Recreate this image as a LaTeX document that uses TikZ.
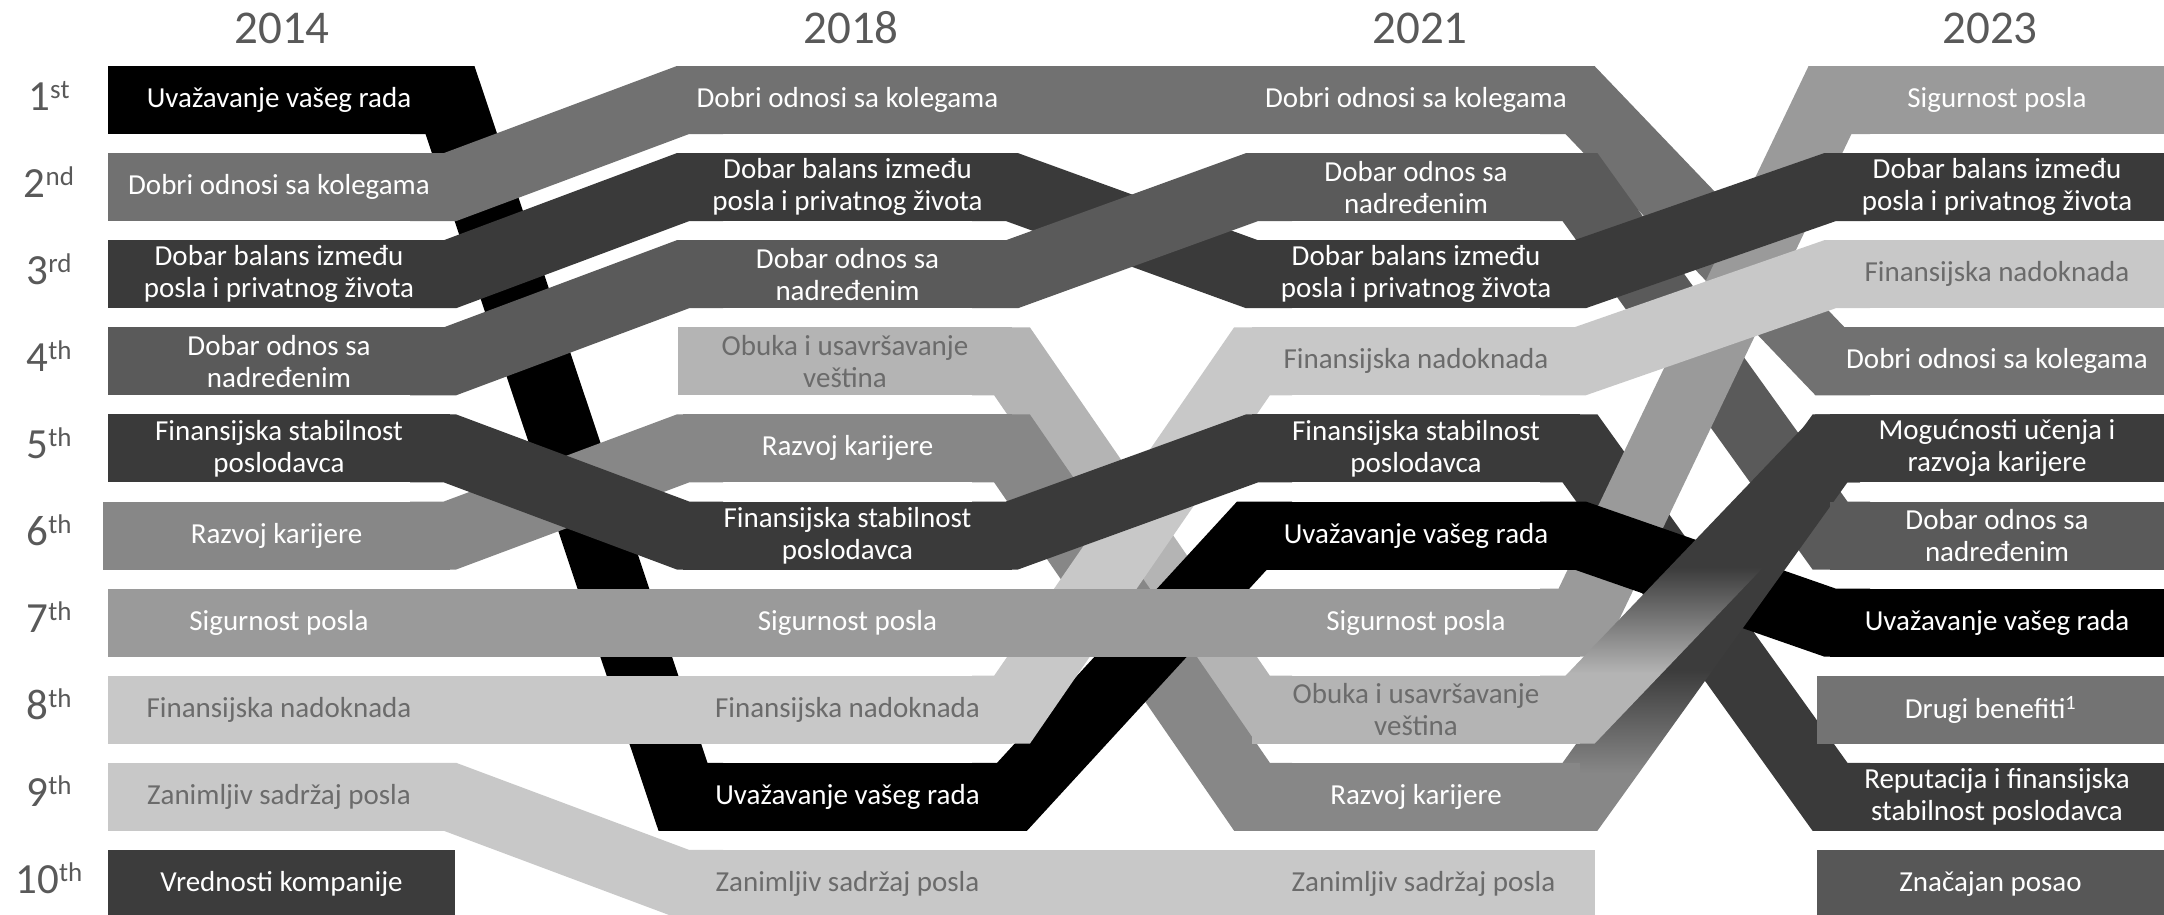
\documentclass[tikz,border=0pt]{standalone}
\usepackage{fontspec}
\setmainfont{Carlito}
\definecolor{cKol}{HTML}{717171}
\definecolor{cBal}{HTML}{3A3A3A}
\definecolor{cNad}{HTML}{5A5A5A}
\definecolor{cFst}{HTML}{3A3A3A}
\definecolor{cRaz}{HTML}{878787}
\definecolor{cSig}{HTML}{9A9A9A}
\definecolor{cFnd}{HTML}{C8C8C8}
\definecolor{cZan}{HTML}{C8C8C8}
\definecolor{cVre}{HTML}{3C3C3C}
\definecolor{cObu}{HTML}{B4B4B4}
\definecolor{cMog}{HTML}{3C3C3C}
\definecolor{cDrg}{HTML}{737373}
\definecolor{cZna}{HTML}{575757}
\definecolor{cTxtG}{HTML}{6B6B6B}
\definecolor{cLab}{HTML}{595959}
\pgfdeclareverticalshading{obugrad}{100bp}{color(0bp)=(cObu); color(35.7bp)=(cObu); color(51.8bp)=(cMog); color(100bp)=(cMog)}
\pgfdeclareverticalshading{razgrad}{100bp}{color(0bp)=(cRaz); color(31.9bp)=(cRaz); color(44.3bp)=(cMog); color(100bp)=(cMog)}
\newcommand\boxfont{\fontsize{29}{32}\selectfont}
\newcommand\sups[1]{\raisebox{12pt}{\fontsize{27}{27}\selectfont #1}}
\newcommand\seg[5]{\draw[rib,draw=#1] ({#2-40},{100+87.1*(#3-1)}) -- ({#2},{100+87.1*(#3-1)}) -- ({#4},{100+87.1*(#5-1)}) -- ({#4+40},{100+87.1*(#5-1)});}
\newcommand\bx[7]{\node[box, fill=#5, text=#6, minimum width={#3-#2}] (#1) at ({(#2+#3)/2},{100+87.1*(#4-1)}) {#7};}
\newcommand\rk[2]{\node[ranklbl] (rank#1) at (49,{110+87.1*(#1-1)}) {#1\sups{#2}};}
\begin{document}
\begin{tikzpicture}[x=1pt,y=-1pt,
  rib/.style={line width=68pt, line join=miter, miter limit=20},
  box/.style={rectangle, inner sep=0pt, outer sep=0pt, minimum height=68pt, align=center, font=\boxfont},
  yearlbl/.style={font=\fontsize{47}{47}\selectfont, text=cLab, anchor=base, inner sep=0pt},
  ranklbl/.style={font=\fontsize{43}{43}\selectfont, text=cLab, anchor=base, inner sep=0pt}]
\useasboundingbox (0,0) rectangle (2164,914);
% years
\node[yearlbl] (y2014) at (282,43) {2014};
\node[yearlbl] (y2018) at (851,43) {2018};
\node[yearlbl] (y2021) at (1420,43) {2021};
\node[yearlbl] (y2023) at (1990,43) {2023};
% ranks
\rk{1}{st}\rk{2}{nd}\rk{3}{rd}\rk{4}{th}\rk{5}{th}\rk{6}{th}\rk{7}{th}\rk{8}{th}\rk{9}{th}\rk{10}{th}
% segment 2014 -> 2018
\seg{black}{450}{1}{683}{9}
\seg{cRaz}{450}{6}{683}{5}
\seg{cFst}{450}{5}{683}{6}
\seg{cKol}{450}{2}{683}{1}
\seg{cBal}{450}{3}{683}{2}
\seg{cNad}{450}{4}{683}{3}
\seg{cSig}{450}{7}{683}{7}
\seg{cFnd}{450}{8}{683}{8}
\seg{cZan}{450}{9}{683}{10}
% segment 2018 -> 2021
\seg{cObu}{1012}{4}{1252}{8}
\seg{cRaz}{1012}{5}{1252}{9}
\seg{black}{1012}{9}{1252}{6}
\seg{cFnd}{1012}{8}{1252}{4}
\seg{cFst}{1012}{6}{1252}{5}
\seg{cBal}{1012}{2}{1252}{3}
\seg{cNad}{1012}{3}{1252}{2}
\seg{cKol}{1012}{1}{1252}{1}
\seg{cSig}{1012}{7}{1252}{7}
\seg{cZan}{1012}{10}{1252}{10}
% segment 2021 -> 2023
\seg{cKol}{1580}{1}{1830}{4}
\seg{cNad}{1580}{2}{1830}{6}
\seg{cFst}{1580}{5}{1830}{9}
\seg{cSig}{1580}{7}{1830}{1}
\seg{black}{1580}{6}{1830}{7}
\shade[shading=razgrad] (1540,762.8) -- (1562.6,762.8) -- (1812.6,414.4) -- (1860,414.4) -- (1860,482.4) -- (1847.4,482.4) -- (1597.4,830.8) -- (1540,830.8) -- cycle;
\shade[shading=obugrad] (1540,675.7) -- (1565.5,675.7) -- (1815.5,414.4) -- (1860,414.4) -- (1860,482.4) -- (1844.5,482.4) -- (1594.5,743.7) -- (1540,743.7) -- cycle;
\seg{cFnd}{1580}{4}{1830}{3}
\seg{cBal}{1580}{3}{1830}{2}
% boxes 2014
\bx{a1}{108}{450}{1}{black}{white}{Uvažavanje vašeg rada}
\bx{a2}{108}{450}{2}{cKol}{white}{Dobri odnosi sa kolegama}
\bx{a3}{108}{450}{3}{cBal}{white}{Dobar balans između\\posla i privatnog života}
\bx{a4}{108}{450}{4}{cNad}{white}{Dobar odnos sa\\nadređenim}
\bx{a5}{108}{450}{5}{cFst}{white}{Finansijska stabilnost\\poslodavca}
\bx{a6}{103}{450}{6}{cRaz}{white}{Razvoj karijere}
\bx{a7}{108}{450}{7}{cSig}{white}{Sigurnost posla}
\bx{a8}{108}{450}{8}{cFnd}{cTxtG}{Finansijska nadoknada}
\bx{a9}{108}{450}{9}{cZan}{cTxtG}{Zanimljiv sadržaj posla}
\bx{a10}{108}{455}{10}{cVre}{white}{Vrednosti kompanije}
% boxes 2018
\bx{b1}{683}{1012}{1}{cKol}{white}{Dobri odnosi sa kolegama}
\bx{b2}{683}{1012}{2}{cBal}{white}{Dobar balans između\\posla i privatnog života}
\bx{b3}{683}{1012}{3}{cNad}{white}{Dobar odnos sa\\nadređenim}
\bx{b4}{678}{1012}{4}{cObu}{cTxtG}{Obuka i usavršavanje\\veština}
\bx{b5}{683}{1012}{5}{cRaz}{white}{Razvoj karijere}
\bx{b6}{683}{1012}{6}{cFst}{white}{Finansijska stabilnost\\poslodavca}
\bx{b7}{683}{1012}{7}{cSig}{white}{Sigurnost posla}
\bx{b8}{683}{1012}{8}{cFnd}{cTxtG}{Finansijska nadoknada}
\bx{b9}{683}{1012}{9}{black}{white}{Uvažavanje vašeg rada}
\bx{b10}{683}{1012}{10}{cZan}{cTxtG}{Zanimljiv sadržaj posla}
% boxes 2021
\bx{c1}{1252}{1580}{1}{cKol}{white}{Dobri odnosi sa kolegama}
\bx{c2}{1252}{1580}{2}{cNad}{white}{Dobar odnos sa\\nadređenim}
\bx{c3}{1252}{1580}{3}{cBal}{white}{Dobar balans između\\posla i privatnog života}
\bx{c4}{1252}{1580}{4}{cFnd}{cTxtG}{Finansijska nadoknada}
\bx{c5}{1252}{1580}{5}{cFst}{white}{Finansijska stabilnost\\poslodavca}
\bx{c6}{1252}{1580}{6}{black}{white}{Uvažavanje vašeg rada}
\bx{c7}{1252}{1580}{7}{cSig}{white}{Sigurnost posla}
\bx{c8}{1252}{1580}{8}{cObu}{cTxtG}{Obuka i usavršavanje\\veština}
\bx{c9}{1252}{1580}{9}{cRaz}{white}{Razvoj karijere}
\bx{c10}{1252}{1595}{10}{cZan}{cTxtG}{Zanimljiv sadržaj posla}
% boxes 2023
\bx{d1}{1830}{2164}{1}{cSig}{white}{Sigurnost posla}
\bx{d2}{1830}{2164}{2}{cBal}{white}{Dobar balans između\\posla i privatnog života}
\bx{d3}{1830}{2164}{3}{cFnd}{cTxtG}{Finansijska nadoknada}
\bx{d4}{1830}{2164}{4}{cKol}{white}{Dobri odnosi sa kolegama}
\bx{d5}{1830}{2164}{5}{cMog}{white}{Mogućnosti učenja i\\razvoja karijere}
\bx{d6}{1830}{2164}{6}{cNad}{white}{Dobar odnos sa\\nadređenim}
\bx{d7}{1830}{2164}{7}{black}{white}{Uvažavanje vašeg rada}
\bx{d8}{1817}{2164}{8}{cDrg}{white}{Drugi benefiti\textsuperscript{1}}
\bx{d9}{1830}{2164}{9}{cFst}{white}{Reputacija i finansijska\\stabilnost poslodavca}
\bx{d10}{1817}{2164}{10}{cZna}{white}{Značajan posao}
\end{tikzpicture}
\end{document}
